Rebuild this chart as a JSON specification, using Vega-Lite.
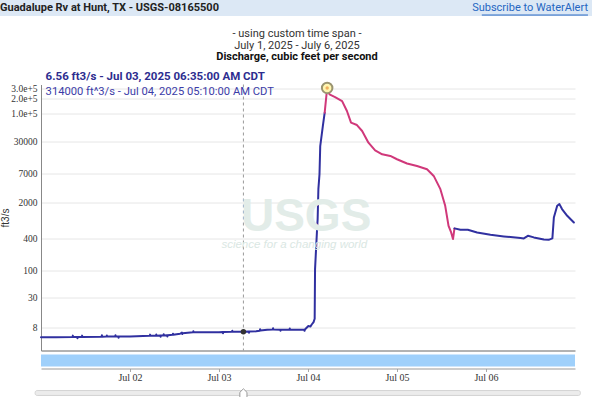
{
  "$schema": "https://vega.github.io/schema/vega-lite/v6.json",
  "autosize": {"type": "pad"},
  "padding": 0,
  "background": "white",
  "spacing": 11.5,
  "config": {
    "view": {"stroke": null},
    "font": "Roboto",
    "axis": {"labelFont": "Liberation Sans Narrow", "titleFont": "Liberation Sans"}
  },
  "datasets": {
    "flow": [
      {"t": "2025-07-01T00:00", "q": 5.1, "seg": 1, "kind": "A"},
      {"t": "2025-07-01T04:00", "q": 5.1, "seg": 1, "kind": "A"},
      {"t": "2025-07-01T08:30", "q": 5.15, "seg": 1, "kind": "A"},
      {"t": "2025-07-01T08:35", "q": 5.5, "seg": 1, "kind": "A"},
      {"t": "2025-07-01T08:40", "q": 5.15, "seg": 1, "kind": "A"},
      {"t": "2025-07-01T09:45", "q": 5.15, "seg": 1, "kind": "A"},
      {"t": "2025-07-01T09:50", "q": 4.9, "seg": 1, "kind": "A"},
      {"t": "2025-07-01T09:55", "q": 5.15, "seg": 1, "kind": "A"},
      {"t": "2025-07-01T11:00", "q": 5.2, "seg": 1, "kind": "A"},
      {"t": "2025-07-01T11:05", "q": 5.5, "seg": 1, "kind": "A"},
      {"t": "2025-07-01T11:10", "q": 5.2, "seg": 1, "kind": "A"},
      {"t": "2025-07-01T16:20", "q": 5.25, "seg": 1, "kind": "A"},
      {"t": "2025-07-01T16:25", "q": 5.6, "seg": 1, "kind": "A"},
      {"t": "2025-07-01T16:30", "q": 5.25, "seg": 1, "kind": "A"},
      {"t": "2025-07-01T17:40", "q": 5.27, "seg": 1, "kind": "A"},
      {"t": "2025-07-01T17:45", "q": 5.55, "seg": 1, "kind": "A"},
      {"t": "2025-07-01T17:50", "q": 5.27, "seg": 1, "kind": "A"},
      {"t": "2025-07-01T20:00", "q": 5.3, "seg": 1, "kind": "A"},
      {"t": "2025-07-01T20:05", "q": 5.6, "seg": 1, "kind": "A"},
      {"t": "2025-07-01T20:10", "q": 5.3, "seg": 1, "kind": "A"},
      {"t": "2025-07-01T20:50", "q": 5.3, "seg": 1, "kind": "A"},
      {"t": "2025-07-01T20:55", "q": 5.0, "seg": 1, "kind": "A"},
      {"t": "2025-07-01T21:00", "q": 5.3, "seg": 1, "kind": "A"},
      {"t": "2025-07-02T00:00", "q": 5.32, "seg": 1, "kind": "A"},
      {"t": "2025-07-02T05:20", "q": 5.45, "seg": 1, "kind": "A"},
      {"t": "2025-07-02T05:25", "q": 5.75, "seg": 1, "kind": "A"},
      {"t": "2025-07-02T05:30", "q": 5.45, "seg": 1, "kind": "A"},
      {"t": "2025-07-02T07:00", "q": 5.5, "seg": 1, "kind": "A"},
      {"t": "2025-07-02T07:05", "q": 5.8, "seg": 1, "kind": "A"},
      {"t": "2025-07-02T07:10", "q": 5.5, "seg": 1, "kind": "A"},
      {"t": "2025-07-02T08:10", "q": 5.52, "seg": 1, "kind": "A"},
      {"t": "2025-07-02T08:15", "q": 5.25, "seg": 1, "kind": "A"},
      {"t": "2025-07-02T08:20", "q": 5.52, "seg": 1, "kind": "A"},
      {"t": "2025-07-02T09:00", "q": 5.55, "seg": 1, "kind": "A"},
      {"t": "2025-07-02T09:05", "q": 5.85, "seg": 1, "kind": "A"},
      {"t": "2025-07-02T09:10", "q": 5.55, "seg": 1, "kind": "A"},
      {"t": "2025-07-02T10:00", "q": 5.6, "seg": 1, "kind": "A"},
      {"t": "2025-07-02T10:05", "q": 5.3, "seg": 1, "kind": "A"},
      {"t": "2025-07-02T10:10", "q": 5.6, "seg": 1, "kind": "A"},
      {"t": "2025-07-02T11:30", "q": 5.7, "seg": 1, "kind": "A"},
      {"t": "2025-07-02T11:35", "q": 6.0, "seg": 1, "kind": "A"},
      {"t": "2025-07-02T11:40", "q": 5.7, "seg": 1, "kind": "A"},
      {"t": "2025-07-02T13:30", "q": 5.98, "seg": 1, "kind": "A"},
      {"t": "2025-07-02T14:00", "q": 6.3, "seg": 1, "kind": "A"},
      {"t": "2025-07-02T14:05", "q": 5.9, "seg": 1, "kind": "A"},
      {"t": "2025-07-02T14:10", "q": 6.1, "seg": 1, "kind": "A"},
      {"t": "2025-07-02T17:00", "q": 6.36, "seg": 1, "kind": "A"},
      {"t": "2025-07-02T17:05", "q": 6.7, "seg": 1, "kind": "A"},
      {"t": "2025-07-02T17:10", "q": 6.36, "seg": 1, "kind": "A"},
      {"t": "2025-07-03T00:00", "q": 6.42, "seg": 1, "kind": "A"},
      {"t": "2025-07-03T01:00", "q": 6.45, "seg": 1, "kind": "A"},
      {"t": "2025-07-03T01:05", "q": 6.1, "seg": 1, "kind": "A"},
      {"t": "2025-07-03T01:10", "q": 6.45, "seg": 1, "kind": "A"},
      {"t": "2025-07-03T03:30", "q": 6.5, "seg": 1, "kind": "A"},
      {"t": "2025-07-03T03:35", "q": 6.85, "seg": 1, "kind": "A"},
      {"t": "2025-07-03T03:40", "q": 6.5, "seg": 1, "kind": "A"},
      {"t": "2025-07-03T06:35", "q": 6.56, "seg": 1, "kind": "A"},
      {"t": "2025-07-03T08:00", "q": 6.6, "seg": 1, "kind": "A"},
      {"t": "2025-07-03T08:05", "q": 6.25, "seg": 1, "kind": "A"},
      {"t": "2025-07-03T08:10", "q": 6.6, "seg": 1, "kind": "A"},
      {"t": "2025-07-03T10:00", "q": 6.65, "seg": 1, "kind": "A"},
      {"t": "2025-07-03T11:00", "q": 6.8, "seg": 1, "kind": "A"},
      {"t": "2025-07-03T11:05", "q": 7.3, "seg": 1, "kind": "A"},
      {"t": "2025-07-03T11:10", "q": 6.9, "seg": 1, "kind": "A"},
      {"t": "2025-07-03T13:00", "q": 7.15, "seg": 1, "kind": "A"},
      {"t": "2025-07-03T14:30", "q": 7.2, "seg": 1, "kind": "A"},
      {"t": "2025-07-03T14:35", "q": 7.6, "seg": 1, "kind": "A"},
      {"t": "2025-07-03T14:40", "q": 7.2, "seg": 1, "kind": "A"},
      {"t": "2025-07-03T16:30", "q": 7.15, "seg": 1, "kind": "A"},
      {"t": "2025-07-03T16:35", "q": 6.8, "seg": 1, "kind": "A"},
      {"t": "2025-07-03T16:40", "q": 7.15, "seg": 1, "kind": "A"},
      {"t": "2025-07-03T19:00", "q": 7.15, "seg": 1, "kind": "A"},
      {"t": "2025-07-03T19:05", "q": 7.55, "seg": 1, "kind": "A"},
      {"t": "2025-07-03T19:10", "q": 7.15, "seg": 1, "kind": "A"},
      {"t": "2025-07-03T22:00", "q": 7.17, "seg": 1, "kind": "A"},
      {"t": "2025-07-03T23:00", "q": 7.1, "seg": 1, "kind": "A"},
      {"t": "2025-07-03T23:05", "q": 6.8, "seg": 1, "kind": "A"},
      {"t": "2025-07-03T23:10", "q": 7.2, "seg": 1, "kind": "A"},
      {"t": "2025-07-04T00:06", "q": 8.4, "seg": 1, "kind": "A"},
      {"t": "2025-07-04T00:40", "q": 8.2, "seg": 1, "kind": "A"},
      {"t": "2025-07-04T01:00", "q": 9.0, "seg": 1, "kind": "A"},
      {"t": "2025-07-04T01:30", "q": 10, "seg": 1, "kind": "A"},
      {"t": "2025-07-04T01:48", "q": 11.6, "seg": 1, "kind": "A"},
      {"t": "2025-07-04T01:54", "q": 104, "seg": 1, "kind": "A"},
      {"t": "2025-07-04T02:24", "q": 527, "seg": 1, "kind": "A"},
      {"t": "2025-07-04T02:36", "q": 948, "seg": 1, "kind": "A"},
      {"t": "2025-07-04T02:48", "q": 3570, "seg": 1, "kind": "A"},
      {"t": "2025-07-04T03:06", "q": 6910, "seg": 1, "kind": "A"},
      {"t": "2025-07-04T03:18", "q": 24000, "seg": 1, "kind": "A"},
      {"t": "2025-07-04T04:00", "q": 58100, "seg": 1, "kind": "A"},
      {"t": "2025-07-04T04:30", "q": 105000, "seg": 1, "kind": "A"},
      {"t": "2025-07-04T04:30", "q": 105000, "seg": 2, "kind": "P"},
      {"t": "2025-07-04T05:10", "q": 314000, "seg": 2, "kind": "P"},
      {"t": "2025-07-04T05:48", "q": 235000, "seg": 2, "kind": "P"},
      {"t": "2025-07-04T07:18", "q": 209000, "seg": 2, "kind": "P"},
      {"t": "2025-07-04T09:12", "q": 175000, "seg": 2, "kind": "P"},
      {"t": "2025-07-04T10:30", "q": 113000, "seg": 2, "kind": "P"},
      {"t": "2025-07-04T11:36", "q": 67500, "seg": 2, "kind": "P"},
      {"t": "2025-07-04T13:12", "q": 60800, "seg": 2, "kind": "P"},
      {"t": "2025-07-04T14:36", "q": 46700, "seg": 2, "kind": "P"},
      {"t": "2025-07-04T16:18", "q": 27900, "seg": 2, "kind": "P"},
      {"t": "2025-07-04T18:06", "q": 19900, "seg": 2, "kind": "P"},
      {"t": "2025-07-04T20:00", "q": 16700, "seg": 2, "kind": "P"},
      {"t": "2025-07-04T22:12", "q": 15500, "seg": 2, "kind": "P"},
      {"t": "2025-07-05T00:00", "q": 13400, "seg": 2, "kind": "P"},
      {"t": "2025-07-05T02:42", "q": 11100, "seg": 2, "kind": "P"},
      {"t": "2025-07-05T05:24", "q": 9950, "seg": 2, "kind": "P"},
      {"t": "2025-07-05T08:06", "q": 8610, "seg": 2, "kind": "P"},
      {"t": "2025-07-05T09:54", "q": 6410, "seg": 2, "kind": "P"},
      {"t": "2025-07-05T11:42", "q": 3570, "seg": 2, "kind": "P"},
      {"t": "2025-07-05T13:00", "q": 1710, "seg": 2, "kind": "P"},
      {"t": "2025-07-05T13:54", "q": 706, "seg": 2, "kind": "P"},
      {"t": "2025-07-05T14:36", "q": 527, "seg": 2, "kind": "P"},
      {"t": "2025-07-05T15:06", "q": 393, "seg": 2, "kind": "P"},
      {"t": "2025-07-05T15:30", "q": 630, "seg": 2, "kind": "P"},
      {"t": "2025-07-05T15:30", "q": 630, "seg": 3, "kind": "A"},
      {"t": "2025-07-05T17:06", "q": 592, "seg": 3, "kind": "A"},
      {"t": "2025-07-05T19:06", "q": 592, "seg": 3, "kind": "A"},
      {"t": "2025-07-05T21:36", "q": 527, "seg": 3, "kind": "A"},
      {"t": "2025-07-06T01:12", "q": 474, "seg": 3, "kind": "A"},
      {"t": "2025-07-06T04:48", "q": 442, "seg": 3, "kind": "A"},
      {"t": "2025-07-06T09:18", "q": 411, "seg": 3, "kind": "A"},
      {"t": "2025-07-06T10:12", "q": 405, "seg": 3, "kind": "A"},
      {"t": "2025-07-06T11:18", "q": 454, "seg": 3, "kind": "A"},
      {"t": "2025-07-06T12:54", "q": 423, "seg": 3, "kind": "A"},
      {"t": "2025-07-06T15:36", "q": 387, "seg": 3, "kind": "A"},
      {"t": "2025-07-06T16:54", "q": 380, "seg": 3, "kind": "A"},
      {"t": "2025-07-06T17:54", "q": 405, "seg": 3, "kind": "A"},
      {"t": "2025-07-06T18:18", "q": 1020, "seg": 3, "kind": "A"},
      {"t": "2025-07-06T19:12", "q": 1710, "seg": 3, "kind": "A"},
      {"t": "2025-07-06T19:48", "q": 1840, "seg": 3, "kind": "A"},
      {"t": "2025-07-06T20:30", "q": 1480, "seg": 3, "kind": "A"},
      {"t": "2025-07-06T21:54", "q": 1100, "seg": 3, "kind": "A"},
      {"t": "2025-07-06T23:42", "q": 820, "seg": 3, "kind": "A"}
    ]
  },
  "vconcat": [
    {
      "width": 551,
      "height": 16,
      "data": {"values": [{}]},
      "layer": [
        {
          "mark": {"type": "rect", "color": "#dce8f5"},
          "encoding": {
            "x": {"datum": -0.07441, "type": "quantitative", "scale": {"domain": [0, 1]}, "axis": null},
            "x2": {"datum": 1},
            "y": {"datum": 0, "type": "quantitative", "scale": {"domain": [0, 1]}, "axis": null},
            "y2": {"datum": 1}
          }
        },
        {
          "mark": {"type": "text", "text": "Guadalupe Rv at Hunt, TX - USGS-08165500", "align": "left", "fontWeight": "bold", "fontSize": 11, "color": "#222222"},
          "encoding": {
            "x": {"datum": -0.07441, "type": "quantitative"},
            "y": {"datum": 0.5, "type": "quantitative"}
          }
        },
        {
          "mark": {"type": "text", "text": "Subscribe to WaterAlert", "align": "right", "dx": -4, "fontSize": 11, "color": "#2566c2"},
          "encoding": {
            "x": {"datum": 1, "type": "quantitative"},
            "y": {"datum": 0.5, "type": "quantitative"}
          }
        },
        {
          "mark": {"type": "rule", "color": "#2566c2", "strokeWidth": 1},
          "encoding": {
            "x": {"datum": 0.8, "type": "quantitative"},
            "x2": {"datum": 0.9927},
            "y": {"datum": 0.06, "type": "quantitative"}
          }
        }
      ]
    },
    {
      "spacing": 3,
      "vconcat": [
        {
          "width": 534,
          "height": 266,
          "title": {
            "text": ["- using custom time span -", "July 1, 2025 - July 6, 2025"],
            "subtitle": "Discharge, cubic feet per second",
            "anchor": "middle",
            "frame": "group",
            "dx": -11,
            "offset": 9,
            "font": "Roboto",
            "fontSize": 11,
            "fontWeight": "normal",
            "color": "#333333",
            "lineHeight": 11.8,
            "subtitleFont": "Roboto",
            "subtitleFontSize": 11,
            "subtitleFontWeight": "bold",
            "subtitleColor": "#111111",
            "subtitleLineHeight": 11.8,
            "subtitlePadding": 0
          },
          "layer": [
            {
              "data": {"name": "flow"},
              "mark": {"type": "line", "strokeWidth": 2, "strokeJoin": "round", "strokeCap": "round"},
              "encoding": {
                "x": {
                  "field": "t", "type": "temporal",
                  "scale": {"domain": [{"year": 2025, "month": 7, "date": 1}, {"year": 2025, "month": 7, "date": 7}], "nice": false},
                  "axis": {"labels": false, "ticks": false, "grid": false, "title": null, "domainColor": "#666666", "domainWidth": 1}
                },
                "y": {
                  "field": "q", "type": "quantitative",
                  "scale": {"type": "log", "domain": [2.85, 365000], "nice": false, "zero": false},
                  "axis": {
                    "title": "ft3/s",
                    "values": [8, 30, 100, 400, 2000, 7000, 30000, 100000, 200000, 300000],
                    "labelExpr": "datum.value >= 100000 ? format(datum.value, '.1e') : format(datum.value, 'd')",
                    "labelOverlap": false,
                    "labelFontSize": 9.5,
                    "labelColor": "#333333",
                    "labelPadding": 4,
                    "ticks": false,
                    "grid": true,
                    "gridColor": "#e6e6e6",
                    "gridWidth": 1,
                    "domainColor": "#888888",
                    "minExtent": 28,
                    "maxExtent": 28,
                    "titlePadding": 3,
                    "titleFontSize": 10,
                    "titleFontWeight": "normal",
                    "titleColor": "#333333"
                  }
                },
                "color": {"field": "kind", "type": "nominal", "scale": {"domain": ["A", "P"], "range": ["#3030a0", "#d0387a"]}, "legend": null},
                "detail": {"field": "seg", "type": "nominal"}
              }
            },
            {
              "data": {"values": [{}]},
              "mark": {"type": "rule", "color": "#999999", "strokeDash": [3, 3], "strokeWidth": 1},
              "encoding": {
                "x": {"datum": {"year": 2025, "month": 7, "date": 3, "hours": 6, "minutes": 35}, "type": "temporal"}
              }
            },
            {
              "data": {"values": [{}]},
              "mark": {"type": "point", "filled": true, "color": "#333333", "size": 30, "opacity": 1},
              "encoding": {
                "x": {"datum": {"year": 2025, "month": 7, "date": 3, "hours": 6, "minutes": 35}, "type": "temporal"},
                "y": {"datum": 6.56, "type": "quantitative"}
              }
            },
            {
              "data": {"values": [{}]},
              "mark": {"type": "point", "filled": true, "fill": "#fff6b0", "stroke": "#9a9470", "strokeWidth": 2, "size": 110, "opacity": 1},
              "encoding": {
                "x": {"datum": {"year": 2025, "month": 7, "date": 4, "hours": 5, "minutes": 10}, "type": "temporal"},
                "y": {"datum": 314000, "type": "quantitative"}
              }
            },
            {
              "data": {"values": [{}]},
              "mark": {"type": "point", "filled": true, "color": "#f0b060", "size": 12, "opacity": 1},
              "encoding": {
                "x": {"datum": {"year": 2025, "month": 7, "date": 4, "hours": 5, "minutes": 10}, "type": "temporal"},
                "y": {"datum": 314000, "type": "quantitative"}
              }
            },
            {
              "data": {"values": [{}]},
              "mark": {"type": "text", "text": "USGS", "font": "Liberation Sans", "fontWeight": "bold", "fontSize": 46, "color": "#e2ece8", "align": "center", "baseline": "middle"},
              "encoding": {
                "x": {"datum": {"year": 2025, "month": 7, "date": 3, "hours": 23, "minutes": 30}, "type": "temporal"},
                "y": {"datum": 1035, "type": "quantitative"}
              }
            },
            {
              "data": {"values": [{}]},
              "mark": {"type": "text", "text": "science for a changing world", "font": "Liberation Sans", "fontStyle": "italic", "fontSize": 11.5, "color": "#dae7e3", "align": "center", "baseline": "middle"},
              "encoding": {
                "x": {"datum": {"year": 2025, "month": 7, "date": 3, "hours": 20, "minutes": 18}, "type": "temporal"},
                "y": {"datum": 301, "type": "quantitative"}
              }
            },
            {
              "data": {"values": [{}]},
              "mark": {"type": "text", "text": "6.56 ft3/s - Jul 03, 2025 06:35:00 AM CDT", "font": "Roboto", "fontWeight": "bold", "fontSize": 11.5, "color": "#2d2d8f", "align": "left", "baseline": "middle", "dx": 4.6, "dy": -7.5},
              "encoding": {
                "x": {"datum": {"year": 2025, "month": 7, "date": 1}, "type": "temporal"},
                "y": {"datum": 365000, "type": "quantitative"}
              }
            },
            {
              "data": {"values": [{}]},
              "mark": {"type": "text", "text": "314000 ft^3/s - Jul 04, 2025 05:10:00 AM CDT", "font": "Roboto", "fontSize": 11.2, "color": "#3c3ca8", "align": "left", "baseline": "middle", "dx": 4.6, "dy": 7.5},
              "encoding": {
                "x": {"datum": {"year": 2025, "month": 7, "date": 1}, "type": "temporal"},
                "y": {"datum": 365000, "type": "quantitative"}
              }
            }
          ]
        },
        {
          "width": 534,
          "height": 12,
          "data": {"values": [{}]},
          "mark": {"type": "rect", "color": "#9fd0fb"},
          "encoding": {
            "x": {
              "datum": {"year": 2025, "month": 7, "date": 1}, "type": "temporal",
              "scale": {"domain": [{"year": 2025, "month": 7, "date": 1}, {"year": 2025, "month": 7, "date": 7}], "nice": false},
              "axis": {
                "values": [{"year": 2025, "month": 7, "date": 2}, {"year": 2025, "month": 7, "date": 3}, {"year": 2025, "month": 7, "date": 4}, {"year": 2025, "month": 7, "date": 5}, {"year": 2025, "month": 7, "date": 6}],
                "format": "%b %d",
                "labelFontSize": 10,
                "labelColor": "#333333",
                "labelPadding": 1,
                "tickColor": "#aaaaaa",
                "tickSize": 3,
                "domainColor": "#999999",
                "offset": 2,
                "grid": false,
                "title": null
              }
            },
            "x2": {"datum": {"year": 2025, "month": 7, "date": 7}}
          }
        },
        {
          "width": 534,
          "height": 12,
          "data": {"values": [{}]},
          "layer": [
            {
              "mark": {"type": "rect", "color": "#ececec", "stroke": "#d4d4d4", "strokeWidth": 1, "cornerRadius": 2},
              "encoding": {
                "x": {
                  "datum": {"year": 2025, "month": 6, "date": 30, "hours": 22, "minutes": 25}, "type": "temporal",
                  "scale": {"domain": [{"year": 2025, "month": 7, "date": 1}, {"year": 2025, "month": 7, "date": 7}], "nice": false},
                  "axis": null
                },
                "x2": {"datum": {"year": 2025, "month": 7, "date": 7, "hours": 1, "minutes": 27}},
                "y": {"datum": 0.58, "type": "quantitative", "scale": {"domain": [0, 1]}, "axis": null},
                "y2": {"datum": 0.17}
              }
            },
            {
              "mark": {"type": "point", "shape": "M-0.75,1 L-0.75,-0.25 L0,-1 L0.75,-0.25 L0.75,1 Z", "filled": true, "fill": "#ffffff", "stroke": "#999999", "strokeWidth": 1, "size": 90, "opacity": 1},
              "encoding": {
                "x": {"datum": {"year": 2025, "month": 7, "date": 3, "hours": 6, "minutes": 35}, "type": "temporal"},
                "y": {"datum": 0.33, "type": "quantitative"}
              }
            }
          ]
        }
      ]
    }
  ]
}
